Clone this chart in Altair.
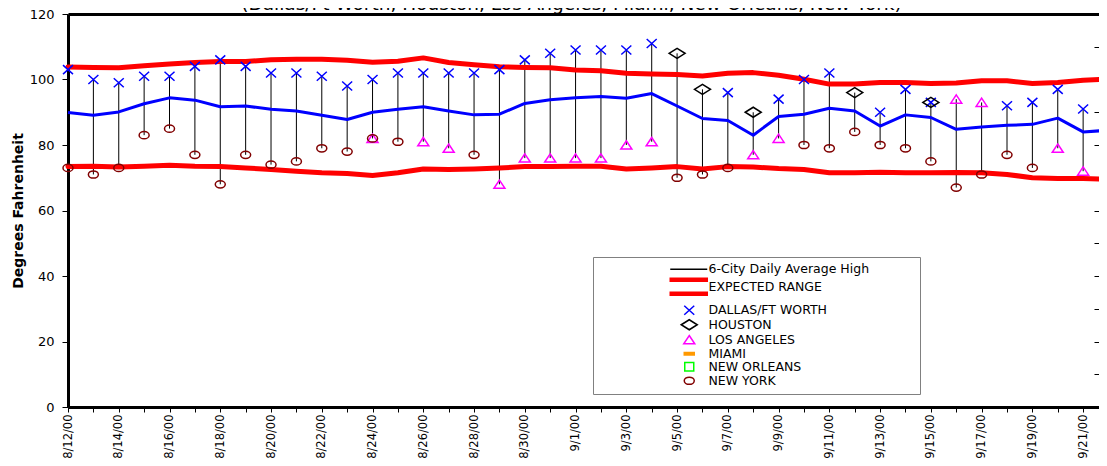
import altair as alt
import pandas as pd

# ---------------- data ----------------
DATES = [
    "2000-08-12", "2000-08-13", "2000-08-14", "2000-08-15", "2000-08-16",
    "2000-08-17", "2000-08-18", "2000-08-19", "2000-08-20", "2000-08-21",
    "2000-08-22", "2000-08-23", "2000-08-24", "2000-08-25", "2000-08-26",
    "2000-08-27", "2000-08-28", "2000-08-29", "2000-08-30", "2000-08-31",
    "2000-09-01", "2000-09-02", "2000-09-03", "2000-09-04", "2000-09-05",
    "2000-09-06", "2000-09-07", "2000-09-08", "2000-09-09", "2000-09-10",
    "2000-09-11", "2000-09-12", "2000-09-13", "2000-09-14", "2000-09-15",
    "2000-09-16", "2000-09-17", "2000-09-18", "2000-09-19", "2000-09-20",
    "2000-09-21", "2000-09-22",
]

AVG_HIGH = [89.9, 89.1, 90.1, 92.6, 94.4, 93.7, 91.7, 91.9, 90.9, 90.4,
            89.1, 87.8, 90.0, 90.9, 91.7, 90.4, 89.2, 89.4, 92.7, 93.8,
            94.4, 94.8, 94.3, 95.7, 91.9, 88.1, 87.5, 83.0, 88.7, 89.4,
            91.2, 90.4, 85.8, 89.2, 88.4, 84.8, 85.5, 86.0, 86.3, 88.2,
            84.0, 84.5]

RANGE_UPPER = [103.8, 103.7, 103.6, 104.2, 104.7, 105.2, 105.5, 105.5, 106.0, 106.2,
               106.2, 105.9, 105.3, 105.6, 106.6, 105.2, 104.5, 103.9, 103.7, 103.6,
               102.9, 102.7, 101.9, 101.7, 101.5, 101.1, 101.9, 102.1, 101.3, 100.1,
               98.6, 98.6, 99.1, 99.1, 98.8, 98.9, 99.6, 99.6, 98.8, 99.1,
               99.8, 100.1]

RANGE_LOWER = [73.4, 73.5, 73.3, 73.5, 73.8, 73.5, 73.4, 73.0, 72.5, 72.0,
               71.5, 71.3, 70.7, 71.5, 72.7, 72.5, 72.7, 73.0, 73.4, 73.4,
               73.5, 73.5, 72.7, 73.0, 73.4, 72.7, 73.4, 73.3, 72.8, 72.5,
               71.5, 71.5, 71.7, 71.5, 71.5, 71.6, 71.5, 71.0, 70.0, 69.8,
               69.8, 69.5]

HIGH_TEMP = [103, 100, 99, 101, 101, 104, 106, 104, 102, 102,
             101, 98, 100, 102, 102, 102, 102, 103, 106, 108,
             109, 109, 109, 111, 108, 97, 96, 90, 94, 100,
             102, 96, 90, 97, 93, 94, 93, 92, 93, 97,
             91, 96]
# D = Dallas/Ft Worth, H = Houston, L = Los Angeles, N = New York
HIGH_CITY = ["D", "D", "D", "D", "D", "D", "D", "D", "D", "D",
             "D", "D", "D", "D", "D", "D", "D", "D", "D", "D",
             "D", "D", "D", "D", "H", "H", "D", "H", "D", "D",
             "D", "H", "D", "D", "DH", "L", "L", "D", "D", "D",
             "D", "D"]

LOW_TEMP = [73, 71, 73, 83, 85, 77, 68, 77, 74, 75,
            79, 78, 82, 81, 81, 79, 77, 68, 76, 76,
            76, 76, 80, 81, 70, 71, 73, 77, 82, 80,
            79, 84, 80, 79, 75, 67, 71, 77, 73, 79,
            72, 69]
LOW_CITY = ["N", "N", "N", "N", "N", "N", "N", "N", "N", "N",
            "N", "N", "LN", "N", "L", "L", "N", "L", "L", "L",
            "L", "L", "L", "L", "N", "N", "N", "L", "L", "N",
            "N", "N", "N", "N", "N", "N", "N", "N", "N", "L",
            "L", "N"]

CITY_NAMES = {"D": "DALLAS/FT WORTH", "H": "HOUSTON", "L": "LOS ANGELES", "N": "NEW YORK"}

LEGEND_LABELS = ["6-City Daily Average High", "EXPECTED RANGE", "DALLAS/FT WORTH",
                 "HOUSTON", "LOS ANGELES", "MIAMI", "NEW ORLEANS", "NEW YORK"]

TITLE = "(Dallas/Ft Worth, Houston, Los Angeles, Miami, New Orleans, New York)"
Y_TITLE = "Degrees Fahrenheit"

# ---------------- styles ----------------
SHAPES = [
    "M-3.8,0H3.6M44.2,0",
    "M-3.8,-1.7H3.6V-1.1H-3.8ZM-3.8,1.1H3.6V1.7H-3.8ZM0,2.6L0,2.6",
    "M-1,-0.9L1,0.9M-1,0.9L1,-0.9",
    "M-1.6,0L0,-1L1.6,0L0,1Z",
    "M0,-0.85L1.1,0.8L-1.1,0.8Z",
    "M-1,-0.25H1V0.25H-1Z",
    "M-0.9,-0.85H0.9V0.85H-0.9Z",
    "M-1,0A1,0.72 0 1,0 1,0A1,0.72 0 1,0 -1,0Z",
]
STROKES = ["#000000", "#FF0000", "#0000FF", "#000000", "#FF00FF", "#FF9900", "#00FF00", "#800000"]
FILLS = ["transparent", "#FF0000", "transparent", "transparent", "transparent",
         "#FF9900", "transparent", "transparent"]

# ---------------- tables ----------------
daily = pd.DataFrame({
    "date": DATES, "avg": AVG_HIGH, "upper": RANGE_UPPER, "lower": RANGE_LOWER,
    "high": HIGH_TEMP, "low": LOW_TEMP,
})

rows = []
for d, t, codes in zip(DATES, HIGH_TEMP, HIGH_CITY):
    for c in codes:
        rows.append({"date": d, "temp": t, "series": CITY_NAMES[c]})
for d, t, codes in zip(DATES, LOW_TEMP, LOW_CITY):
    for c in codes:
        rows.append({"date": d, "temp": t, "series": CITY_NAMES[c]})
markers = pd.DataFrame(rows)

title_df = pd.DataFrame({"title": [TITLE]})


def dt(s, **extra):
    return alt.DateTime(year=int(s[:4]), month=int(s[5:7]), date=int(s[8:10]), utc=True, **extra)


x_scale = alt.Scale(type="utc", domain=[dt(DATES[0]), dt(DATES[-2], hours=15)], nice=False)
y_scale = alt.Scale(domain=[0, 120], nice=False, zero=False)

FONT = "DejaVu Sans"

bottom_axis = alt.Axis(
    orient="bottom", values=[dt(d) for d in DATES],
    labelExpr="round((datum.value - utc(2000, 7, 12)) / 86400000) % 2 == 0 ? utcFormat(datum.value, '%-m/%-d/%y') : ''",
    labelAngle=270, labelAlign="right", labelBaseline="middle",
    labelFont=FONT, labelFontSize=11.5, labelColor="black", labelPadding=2,
    labelOverlap=False, labelFlush=False,
    tickSize=5, tickColor="black", tickWidth=1,
    domainColor="black", domainWidth=3, grid=False, title=None,
)
left_axis = alt.Axis(
    orient="left", values=[0, 20, 40, 60, 80, 100, 120],
    labelFont=FONT, labelFontSize=13, labelColor="black", labelPadding=8,
    labelFlush=False,
    tickSize=6, tickColor="black", tickWidth=1,
    domainColor="black", domainWidth=3, grid=False,
    title=Y_TITLE, titleFont=FONT, titleFontSize=14, titleFontWeight="bold",
    titleColor="black", titlePadding=4,
)
top_axis = alt.Axis(orient="top", ticks=False, labels=False, domain=True,
                    domainColor="black", domainWidth=3, grid=False, title=None)
right_axis = alt.Axis(orient="right", values=list(range(0, 121, 10)), ticks=True,
                      tickSize=5, tickColor="black", labels=False, domain=False,
                      grid=False, title=None, offset=-5)

legend = alt.Legend(
    orient="none", legendX=525, legendY=243, title=None, padding=6,
    strokeColor="#808080", fillColor="white",
    symbolSize=100, symbolStrokeWidth=1.5,
    labelFont=FONT, labelFontSize=12.5, labelColor="black", labelLimit=400,
    rowPadding=-1.5, symbolOffset=84, labelOffset=13,
)

base = alt.Chart(daily)

rules = base.mark_rule(color="black", strokeWidth=1).encode(
    x=alt.X("date:T", scale=x_scale, axis=bottom_axis),
    y=alt.Y("high:Q", scale=y_scale, axis=left_axis),
    y2="low:Q",
)
upper = base.mark_line(color="#FF0000", strokeWidth=5, strokeCap="round", strokeJoin="round").encode(
    x=alt.X("date:T", scale=x_scale, axis=top_axis),
    y=alt.Y("upper:Q", scale=y_scale, axis=right_axis),
)
lower = base.mark_line(color="#FF0000", strokeWidth=5, strokeCap="round", strokeJoin="round").encode(
    x=alt.X("date:T", scale=x_scale, axis=None),
    y=alt.Y("lower:Q", scale=y_scale, axis=None),
)
avg = base.mark_line(color="#0000FF", strokeWidth=3, strokeJoin="round").encode(
    x=alt.X("date:T", scale=x_scale, axis=None),
    y=alt.Y("avg:Q", scale=y_scale, axis=None),
)
points = alt.Chart(markers).mark_point(size=100, strokeWidth=1.5, filled=False, opacity=1).encode(
    x=alt.X("date:T", scale=x_scale, axis=None),
    y=alt.Y("temp:Q", scale=y_scale, axis=None),
    shape=alt.Shape("series:N", scale=alt.Scale(domain=LEGEND_LABELS, range=SHAPES), legend=legend),
    stroke=alt.Stroke("series:N", scale=alt.Scale(domain=LEGEND_LABELS, range=STROKES), legend=legend),
    fill=alt.Fill("series:N", scale=alt.Scale(domain=LEGEND_LABELS, range=FILLS), legend=legend),
)
# chart title, sitting above the plot frame (its top half falls outside the picture)
title = alt.Chart(title_df).mark_text(
    font=FONT, fontSize=18.5, color="black", align="center", baseline="alphabetic"
).encode(
    text="title:N",
    x=alt.value(503.5),
    y=alt.value(-4.5),
)

chart = alt.layer(rules, upper, lower, avg, points, title).resolve_axis(
    x="independent", y="independent"
).properties(
    width=1031, height=393,
    autosize=alt.AutoSizeParams(type="none"),
    padding={"left": 60, "top": 6, "right": 0, "bottom": 51},
    background="white",
).configure_view(stroke=None)

chart.save("out.html", embed_options={"renderer": "svg", "actions": False})
